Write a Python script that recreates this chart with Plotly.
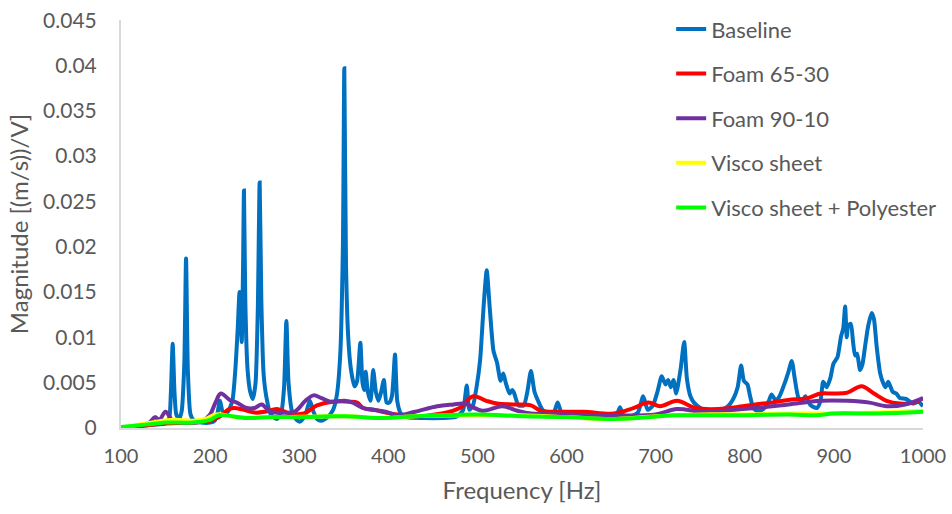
import plotly.graph_objects as go

# ---- Data ----
base_f = [100, 120, 140, 150, 154, 156, 158, 160, 162, 165, 168, 171, 173, 175, 178, 182, 190, 200, 205, 208, 211, 215, 220,
          225, 228, 231, 233, 234.5, 235.5, 237, 238, 239.5, 242, 245, 248, 251, 253.5, 255.6, 257.5, 260, 263, 268, 275,
          280, 283, 285.6, 288, 292, 297, 301, 307, 312, 316, 320, 325, 332, 338, 342, 346, 349, 350.6, 352.5, 355, 358,
          362, 365, 368.6, 371, 373, 374.6, 377, 380, 383, 386, 389, 392, 395, 398, 401, 404, 407.5, 410, 414, 420, 440,
          460, 475, 480, 484, 488, 491, 495, 499, 503, 507, 510.4, 514, 518, 522, 526, 529, 532, 536, 539, 541, 546, 552,
          556, 560, 564, 568, 573, 580, 586, 590, 594, 600, 615, 630, 645, 655, 660, 664, 670, 680, 686, 691, 697, 702,
          706.8, 711, 714, 717, 720, 723, 728, 732, 735, 739, 743, 750, 760, 770, 780, 787, 792, 795.9, 799, 803, 806,
          809.7, 815, 822, 827, 830, 835, 839, 845, 849, 852.7, 856, 860, 864, 868, 874, 880.8, 885, 888, 892, 896,
          899.5, 904, 908, 910.5, 912.6, 914.5, 916, 919, 921.5, 923.8, 926, 929.4, 932, 935, 938, 940, 942.5, 945, 948,
          952, 955.6, 958, 961, 966, 970, 974, 981, 989, 995, 1000]
base_v = [0.0000, 0.0002, 0.0004, 0.0005, 0.0010, 0.0040, 0.0093, 0.0040, 0.0015, 0.0010, 0.0018, 0.0070, 0.0187, 0.0065,
          0.0015, 0.0008, 0.0006, 0.0006, 0.0008, 0.0015, 0.0030, 0.0015, 0.0018, 0.0030, 0.0060, 0.0110, 0.0150, 0.0120,
          0.0095, 0.0180, 0.0262, 0.0140, 0.0065, 0.0040, 0.0032, 0.0050, 0.0130, 0.0271, 0.0140, 0.0060, 0.0035, 0.0015,
          0.0010, 0.0018, 0.0045, 0.0118, 0.0050, 0.0018, 0.0009, 0.0007, 0.0015, 0.0030, 0.0018, 0.0010, 0.0008, 0.0012,
          0.0020, 0.0035, 0.0080, 0.0200, 0.0397, 0.0180, 0.0100, 0.0065, 0.0046, 0.0052, 0.0094, 0.0050, 0.0042, 0.0062,
          0.0040, 0.0030, 0.0064, 0.0040, 0.0030, 0.0040, 0.0053, 0.0028, 0.0028, 0.0035, 0.0081, 0.0030, 0.0016, 0.0012,
          0.0011, 0.0011, 0.0012, 0.0015, 0.0020, 0.0047, 0.0020, 0.0025, 0.0045, 0.0075, 0.0135, 0.0174, 0.0130, 0.0085,
          0.0072, 0.0052, 0.0060, 0.0049, 0.0038, 0.0042, 0.0039, 0.0025, 0.0025, 0.0040, 0.0063, 0.0040, 0.0030, 0.0020,
          0.0016, 0.0018, 0.0028, 0.0018, 0.0016, 0.0016, 0.0016, 0.0014, 0.0012, 0.0023, 0.0013, 0.0012, 0.0017, 0.0035,
          0.0020, 0.0025, 0.0040, 0.0057, 0.0048, 0.0053, 0.0045, 0.0053, 0.0038, 0.0065, 0.0095, 0.0055, 0.0035, 0.0028,
          0.0022, 0.0018, 0.0019, 0.0023, 0.0032, 0.0045, 0.0069, 0.0052, 0.0048, 0.0035, 0.0022, 0.0018, 0.0022, 0.0030,
          0.0037, 0.0030, 0.0035, 0.0050, 0.0062, 0.0074, 0.0055, 0.0034, 0.0029, 0.0035, 0.0025, 0.0022, 0.0030, 0.0051,
          0.0045, 0.0055, 0.0071, 0.0078, 0.0101, 0.0110, 0.0134, 0.0100, 0.0113, 0.0115, 0.0095, 0.0080, 0.0082, 0.0064,
          0.0070, 0.0090, 0.0110, 0.0119, 0.0127, 0.0120, 0.0090, 0.0060, 0.0049, 0.0045, 0.0051, 0.0040, 0.0038, 0.0033,
          0.0032, 0.0027, 0.0029, 0.0024]

foam6530_f = [100, 150, 180, 200, 210, 220, 226, 238, 250, 262, 275, 290, 305, 320, 337, 357, 365, 372, 385, 397, 410, 430,
              460, 480, 495, 510, 522, 540, 560, 571, 600, 620, 653, 675, 692, 705, 724, 745, 771, 790, 812, 830, 849,
              870, 885, 900, 915, 931, 945, 959, 974, 990, 1000]
foam6530_v = [0.0000, 0.0005, 0.0006, 0.0008, 0.0012, 0.0020, 0.0022, 0.0020, 0.0017, 0.0018, 0.0021, 0.0016, 0.0016,
              0.0025, 0.0029, 0.0029, 0.0028, 0.0022, 0.0020, 0.0017, 0.0015, 0.0013, 0.0016, 0.0022, 0.0035, 0.0030,
              0.0027, 0.0026, 0.0025, 0.0019, 0.0018, 0.0018, 0.0016, 0.0022, 0.0028, 0.0024, 0.0030, 0.0022, 0.0021,
              0.0023, 0.0026, 0.0028, 0.0031, 0.0033, 0.0038, 0.0038, 0.0039, 0.0046, 0.0038, 0.0030, 0.0027, 0.0028,
              0.0033]

foam9010_f = [100, 120, 132, 138, 143, 150, 158, 170, 190, 200, 206, 212, 222, 230, 241, 250, 258, 267, 280, 295, 307,
              316, 325, 335, 351, 360, 372, 397, 410, 430, 455, 473, 485, 506, 528, 545, 560, 600, 650, 700, 724, 750,
              774, 812, 849, 885, 915, 940, 959, 980, 1000]
foam9010_v = [0.0000, 0.0002, 0.0006, 0.0012, 0.0009, 0.0018, 0.0008, 0.0006, 0.0007, 0.0015, 0.0028, 0.0038, 0.0031,
              0.0028, 0.0022, 0.0022, 0.0026, 0.0018, 0.0017, 0.0018, 0.0030, 0.0036, 0.0033, 0.0029, 0.0030, 0.0028,
              0.0022, 0.0018, 0.0014, 0.0018, 0.0024, 0.0026, 0.0027, 0.0019, 0.0024, 0.0019, 0.0016, 0.0015, 0.0014,
              0.0015, 0.0021, 0.0018, 0.0019, 0.0022, 0.0026, 0.0030, 0.0030, 0.0028, 0.0024, 0.0026, 0.0033]

visco_f = [100, 140, 160, 180, 195, 207, 230, 270, 350, 395, 430, 500, 550, 600, 650, 700, 750, 800, 850, 900, 950, 1000]
visco_v = [0.0000, 0.0007, 0.0009, 0.0008, 0.0010, 0.0015, 0.0012, 0.0012, 0.0013, 0.0011, 0.0013, 0.0014, 0.0014,
           0.0012, 0.0010, 0.0013, 0.0015, 0.0015, 0.0016, 0.0016, 0.0017, 0.0019]

viscopoly_f = [100, 130, 150, 180, 200, 210, 240, 270, 300, 350, 395, 430, 500, 550, 600, 650, 680, 720, 760, 800, 850,
               880, 900, 950, 1000]
viscopoly_v = [0.0001, 0.0004, 0.0006, 0.0006, 0.0009, 0.0014, 0.0011, 0.0012, 0.0012, 0.0013, 0.0011, 0.0013, 0.0015,
               0.0013, 0.0012, 0.0010, 0.0011, 0.0014, 0.0014, 0.0014, 0.0015, 0.0014, 0.0016, 0.0016, 0.0018]

y_ticks = [0, 0.005, 0.01, 0.015, 0.02, 0.025, 0.03, 0.035, 0.04, 0.045]
y_tick_labels = ["0", "0.005", "0.01", "0.015", "0.02", "0.025", "0.03", "0.035", "0.04", "0.045"]
x_ticks = [100, 200, 300, 400, 500, 600, 700, 800, 900, 1000]

series = [
    ("Baseline", base_f, base_v, "#0070C0", 0.6),
    ("Foam 65-30", foam6530_f, foam6530_v, "#FF0000", 1.0),
    ("Foam 90-10", foam9010_f, foam9010_v, "#7030A0", 1.0),
    ("Visco sheet", visco_f, visco_v, "#FFFF00", 1.0),
    ("Visco sheet + Polyester", viscopoly_f, viscopoly_v, "#00FF00", 1.0),
]

fig = go.Figure()
for name, f, v, color, smooth in series:
    fig.add_trace(go.Scatter(x=f, y=v, mode="lines", name=name, legendgroup=name,
                             line=dict(color=color, width=4, shape="spline", smoothing=smooth)))

text_color = "#595959"
font_family = "Lato, 'Open Sans', sans-serif"

fig.update_layout(
    width=952, height=514,
    margin=dict(l=121, r=29, t=20, b=86, autoexpand=False),
    paper_bgcolor="white", plot_bgcolor="white",
    font=dict(family=font_family, color=text_color, size=20),
    showlegend=True,
    legend=dict(xref="container", yref="container", x=0.705, y=0.984, xanchor="left", yanchor="top",
                font=dict(size=22, color=text_color), tracegroupgap=13,
                bgcolor="rgba(0,0,0,0)"),
    xaxis=dict(range=[100, 1000], tickvals=x_ticks, showgrid=False, zeroline=False,
               showline=True, linecolor="#D9D9D9", linewidth=2, ticks="", automargin=False,
               ticklabelstandoff=9,
               title=dict(text="Frequency [Hz]", font=dict(size=24, color=text_color), standoff=16),
               tickfont=dict(size=20, color=text_color)),
    yaxis=dict(range=[0, 0.04502], tickvals=y_ticks, ticktext=y_tick_labels, showgrid=False, zeroline=False,
               showline=True, linecolor="#D9D9D9", linewidth=2, ticks="", automargin=False,
               ticklabelstandoff=18,
               title=dict(text="Magnitude [(m/s))/V]", font=dict(size=24, color=text_color), standoff=8),
               tickfont=dict(size=21, color=text_color)),
)

# remove the default page margin so the figure sits at the window's top-left corner
fig.write_html("out.html", config={"displayModeBar": False},
               post_script="document.body.style.margin='0px';")
